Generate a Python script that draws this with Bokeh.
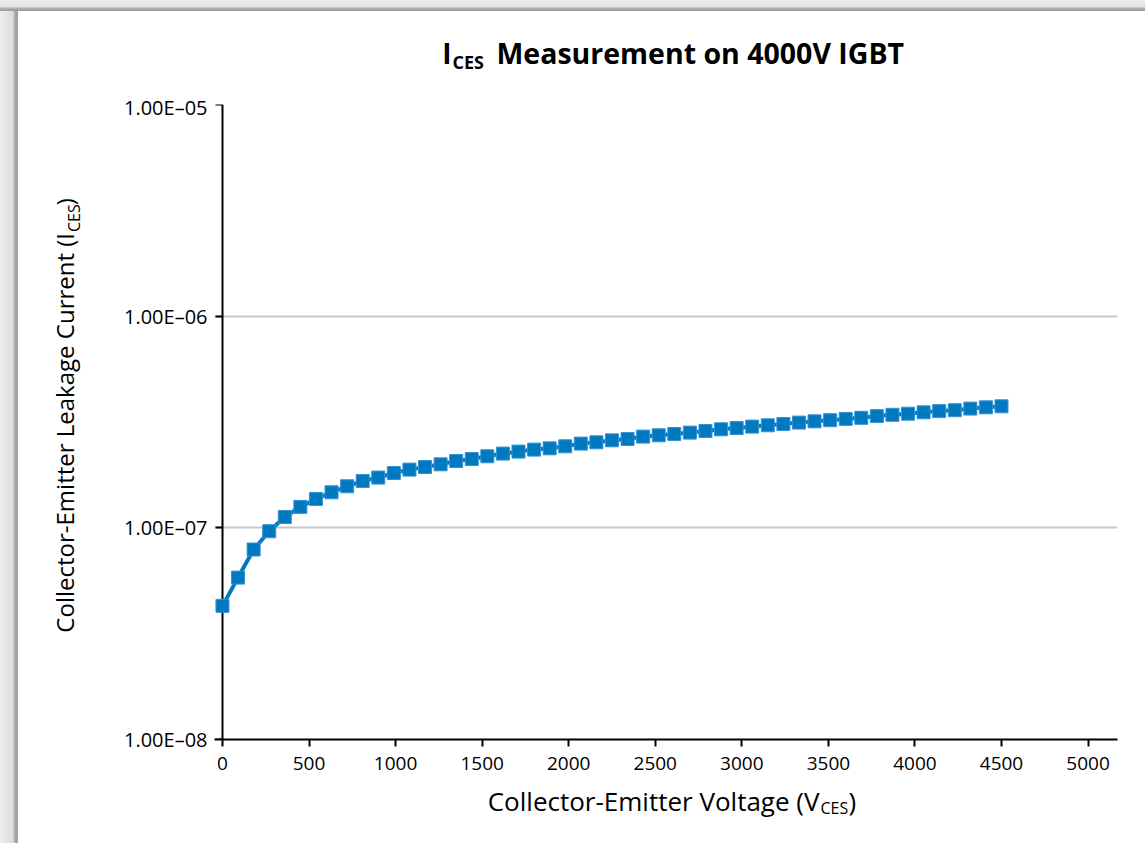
import math
from bokeh.plotting import figure
from bokeh.models import Range1d, FixedTicker, Spacer, LogAxis
from bokeh.layouts import column, row
from bokeh.core.properties import value
from bokeh.embed import file_html
from bokeh.resources import INLINE

# ---- data ----
voltage = [0, 90, 180, 270, 360, 450, 540, 630, 720, 810,
           900, 990, 1080, 1170, 1260, 1350, 1440, 1530, 1620, 1710,
           1800, 1890, 1980, 2070, 2160, 2250, 2340, 2430, 2520, 2610,
           2700, 2790, 2880, 2970, 3060, 3150, 3240, 3330, 3420, 3510,
           3600, 3690, 3780, 3870, 3960, 4050, 4140, 4230, 4320, 4410,
           4500]
leakage = [4.28e-8, 5.82e-8, 7.90e-8, 9.64e-8, 1.125e-7, 1.256e-7, 1.369e-7, 1.472e-7, 1.572e-7, 1.665e-7,
           1.728e-7, 1.816e-7, 1.884e-7, 1.938e-7, 1.996e-7, 2.069e-7, 2.115e-7, 2.178e-7, 2.243e-7, 2.292e-7,
           2.342e-7, 2.375e-7, 2.428e-7, 2.500e-7, 2.536e-7, 2.591e-7, 2.628e-7, 2.698e-7, 2.737e-7, 2.776e-7,
           2.818e-7, 2.867e-7, 2.921e-7, 2.963e-7, 3.008e-7, 3.051e-7, 3.095e-7, 3.142e-7, 3.186e-7, 3.225e-7,
           3.271e-7, 3.310e-7, 3.372e-7, 3.420e-7, 3.461e-7, 3.514e-7, 3.561e-7, 3.595e-7, 3.659e-7, 3.710e-7,
           3.751e-7]
x_ticks = [0, 500, 1000, 1500, 2000, 2500, 3000, 3500, 4000, 4500, 5000]
y_ticks = [1e-8, 1e-7, 1e-6, 1e-5]
y_tick_labels = ["1.00E\u201308", "1.00E\u201307", "1.00E\u201306", "1.00E\u201305"]

title_main = "I"
title_sub = "CES"
title_rest = "Measurement on 4000V IGBT"
xlabel_main = "Collector-Emitter Voltage (V"
ylabel_main = "Collector-Emitter Leakage Current (I"
label_sub = "CES"
label_close = ")"

FONT = "Open Sans"
BLUE = "#0079C1"

# page geometry (px): gray strips 18 left / 11 top
LEFT, TOP = 18, 11
TITLE_H = 82          # page y 11..93
MAIN_H = 687          # page y 93..780
XLAB_H = 63           # page y 780..843
YLAB_W = 80           # page x 18..98
MAIN_W = 1047         # page x 98..1145
FULL_W = YLAB_W + MAIN_W

# ---- main chart ----
p = figure(width=MAIN_W, height=MAIN_H,
           x_range=Range1d(-46, 5170), y_range=Range1d(1e-8, 1e-5),
           y_axis_type="log", output_backend="svg", toolbar_location=None,
           min_border_left=116, min_border_right=28,
           min_border_top=11, min_border_bottom=41)
p.outline_line_color = None
p.background_fill_color = "white"
p.border_fill_color = "white"

xt = FixedTicker(ticks=x_ticks, minor_ticks=[])
yt = FixedTicker(ticks=y_ticks, minor_ticks=[])
p.xgrid.visible = False
p.ygrid.ticker = yt
p.ygrid.grid_line_color = "#c8c8c8"
p.ygrid.grid_line_width = 2

# x axis
xa = p.xaxis[0]
xa.ticker = xt
xa.axis_line_color = "black"
xa.axis_line_width = 2
xa.major_tick_line_color = "black"
xa.major_tick_line_width = 2
xa.major_tick_out = 7
xa.major_tick_in = 0
xa.minor_tick_line_color = None
xa.major_label_text_font = FONT
xa.major_label_text_font_size = "19px"
xa.major_label_text_color = "black"
xa.major_label_standoff = 10

# y axis: tick labels (at the frame edge)
ya = p.yaxis[0]
ya.ticker = yt
ya.axis_line_color = None
ya.major_tick_line_color = None
ya.minor_tick_line_color = None
ya.major_tick_out = 0
ya.major_tick_in = 0
ya.major_label_standoff = 7
ya.major_label_text_font = FONT
ya.major_label_text_font_size = "20px"
ya.major_label_text_color = "black"
ya.major_label_overrides = dict(zip(y_ticks, y_tick_labels))

# y axis: line and ticks placed at x = 0
yl = LogAxis(ticker=yt, fixed_location=0,
             axis_line_color="black", axis_line_width=2,
             major_tick_line_color="black", major_tick_line_width=2,
             major_tick_out=7, major_tick_in=0, minor_tick_line_color=None,
             major_label_standoff=0, major_label_text_color=None,
             major_label_overrides={t: "" for t in y_ticks})
p.add_layout(yl, "left")

ln = p.line(voltage, leakage, line_color=BLUE, line_width=4)
sc = p.scatter(voltage, leakage, marker="square", size=13,
               fill_color=BLUE, line_color="#3493d2", line_width=1)
ln.level = "overlay"
sc.level = "overlay"


# ---- text panels (pixel coordinate figures) ----
def text_panel(w, h):
    f = figure(width=w, height=h, x_range=Range1d(0, w), y_range=Range1d(0, h),
               output_backend="svg", toolbar_location=None, min_border=0,
               x_axis_location=None, y_axis_location=None)
    f.grid.visible = False
    f.outline_line_color = None
    f.background_fill_color = "white"
    f.border_fill_color = "white"
    return f


def put(f, ox, oy, h, text, px, py, size, align="left", bold=False, angle=0.0):
    # px, py are page coordinates; (ox, oy) page position of the panel's top-left
    f.text(x=[px - ox], y=[h - (py - oy)], text=[text],
           text_font=value(FONT), text_font_size=value(size),
           text_font_style="bold" if bold else "normal",
           text_color="black", text_align=align,
           text_baseline="alphabetic", angle=angle)


title_fig = text_panel(FULL_W, TITLE_H)
put(title_fig, LEFT, TOP, TITLE_H, title_main, 451, 52, "28px", align="right", bold=True)
put(title_fig, LEFT, TOP, TITLE_H, title_sub, 452, 61, "18px", align="left", bold=True)
put(title_fig, LEFT, TOP, TITLE_H, title_rest, 496, 52, "28.5px", align="left", bold=True)

ylab_fig = text_panel(YLAB_W, MAIN_H)
oy = TOP + TITLE_H
ang = math.pi / 2
put(ylab_fig, LEFT, oy, MAIN_H, ylabel_main, 64, 232, "24px", align="right", angle=ang)
put(ylab_fig, LEFT, oy, MAIN_H, label_sub, 73, 231, "16px", align="left", angle=ang)
put(ylab_fig, LEFT, oy, MAIN_H, label_close, 64, 202, "24px", align="left", angle=ang)

xlab_fig = text_panel(FULL_W, XLAB_H)
oyx = TOP + TITLE_H + MAIN_H
put(xlab_fig, LEFT, oyx, XLAB_H, xlabel_main, 819, 800, "26px", align="right")
put(xlab_fig, LEFT, oyx, XLAB_H, label_sub, 820, 807, "16px", align="left")
put(xlab_fig, LEFT, oyx, XLAB_H, label_close, 848, 800, "26px", align="left")

# ---- gray frame strips ----
top = Spacer(width=LEFT + FULL_W, height=TOP,
             styles={"background": "linear-gradient(#ededed 0%, #e2e2e2 60%, #a8a8a8 80%, #9c9c9c 100%)"})
left = Spacer(width=LEFT, height=TITLE_H + MAIN_H + XLAB_H,
              styles={"background": "linear-gradient(to right, #ededed 0%, #dedede 70%, #a8a8a8 84%, #9c9c9c 100%)"})

layout = column(top, row(left, column(title_fig, row(ylab_fig, p), xlab_fig)))

open("out.html", "w").write(file_html(layout, INLINE))
